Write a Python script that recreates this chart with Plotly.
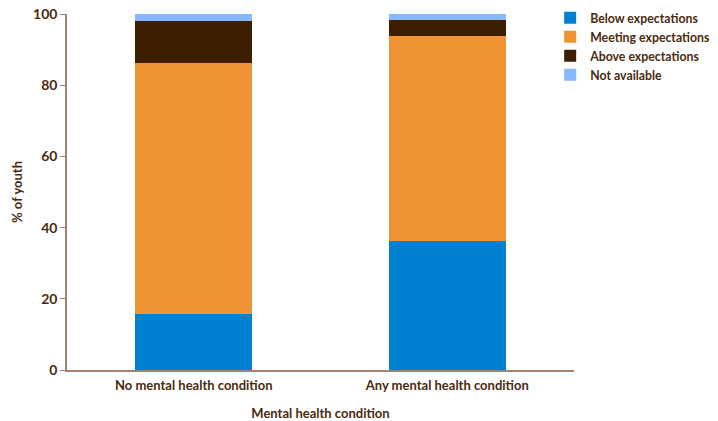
import plotly.graph_objects as go

categories = ["No mental health condition", "Any mental health condition"]
series_names = ["Below expectations", "Meeting expectations", "Above expectations", "Not available"]
below = [15.7, 36.2]
meeting = [70.5, 57.6]
above = [11.8, 4.5]
not_available = [2.0, 1.7]
y_ticks = [0, 20, 40, 60, 80, 100]

colors = ["#0080D0", "#EF9335", "#3D1F00", "#85B8FF"]
text_color = "#4A2A0E"
axis_color = "#9C8670"
fam = "Lato, Open Sans, sans-serif"

fig = go.Figure()
for name, vals, col in zip(series_names, [below, meeting, above, not_available], colors):
    fig.add_trace(go.Bar(x=categories, y=vals, name=name, marker=dict(color=col, line=dict(width=0)),
                         width=0.46))

fig.update_layout(
    barmode="stack",
    width=718, height=421,
    margin=dict(l=67, r=144, t=14, b=51, autoexpand=False),
    paper_bgcolor="white", plot_bgcolor="white",
    font=dict(family=fam, color=text_color, size=12),
    legend=dict(x=0.953, xanchor="left", y=1.03, yanchor="top", traceorder="normal",
                font=dict(size=12.3, color=text_color, family=fam, weight=700),
                tracegroupgap=0, bgcolor="rgba(0,0,0,0)"),
    xaxis=dict(showline=True, linecolor=axis_color, linewidth=1.5, ticks="", automargin=False,
               tickfont=dict(size=13, weight=700, family=fam), ticklabelstandoff=3,
               title=dict(text="Mental health condition", font=dict(size=13, weight=700, family=fam), standoff=18)),
    yaxis=dict(range=[0, 100], tickvals=y_ticks, showline=True, linecolor=axis_color, linewidth=1.5,
               ticks="outside", ticklen=5, tickcolor=axis_color, showgrid=False, zeroline=False,
               automargin=False, ticklabeloverflow="allow",
               tickfont=dict(size=14, weight=700, family=fam),
               title=dict(text="% of youth", font=dict(size=13, weight=700, family=fam), standoff=8)),
    showlegend=True,
)

fig.write_html("out.html", config={"displayModeBar": False},
               post_script="document.body.style.margin='0';document.body.style.overflow='hidden';")
